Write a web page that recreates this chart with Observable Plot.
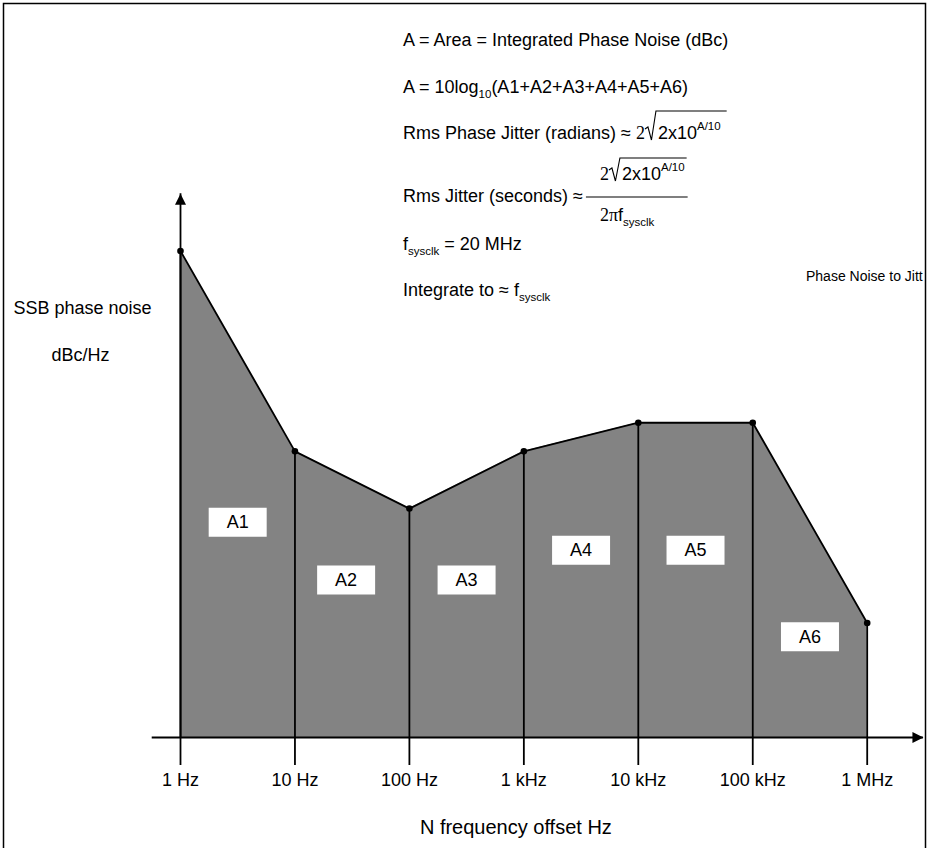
<!DOCTYPE html>
<html>
<head>
<meta charset="utf-8">
<script src="https://cdn.jsdelivr.net/npm/d3@7"></script>
<script src="https://cdn.jsdelivr.net/npm/@observablehq/plot@0.6"></script>
<style>
  html, body { margin: 0; padding: 0; background: #fff; }
  #chart svg { display: block; }
</style>
</head>
<body>
<div id="chart"></div>
<script>
// ---- data ----
const freqs = [1, 10, 100, 1e3, 1e4, 1e5, 1e6];                       // offset frequency, Hz
const tickLabels = ["1 Hz", "10 Hz", "100 Hz", "1 kHz", "10 kHz", "100 kHz", "1 MHz"];
const noise = [-60, -95, -105, -95, -90, -90, -125];                   // SSB phase noise, dBc/Hz
const floorDb = -145;        // bottom of the shaded area (x axis level)
const axisTopDb = -50;       // tip of the vertical arrow
const axisXStart = 0.566;    // left end of the horizontal axis line
const axisXEnd = 3.1e6;      // tip of the horizontal arrow
const areaNames = ["A1", "A2", "A3", "A4", "A5", "A6"];
const areaLabelF = [3.16, 28, 316, 3162, 31623, 316228];
const areaLabelDb = [-107.4, -117.5, -117.5, -112.3, -112.3, -127.4];
const xTitle = "N frequency offset Hz";
const yTitle = ["SSB phase noise", "dBc/Hz"];
const edgeCaption = "Phase Noise to Jitt";

const pts = freqs.map((f, i) => ({f, v: noise[i]}));
const areaLabels = areaNames.map((name, i) => ({name, f: areaLabelF[i], v: areaLabelDb[i]}));

const SANS = "'Liberation Sans', Arial, Helvetica, sans-serif";
const SERIF = "'Liberation Serif', 'Times New Roman', serif";

// custom symbols
const arrowHead = {draw(ctx, size) { const r = Math.sqrt(size / Math.PI); ctx.moveTo(0, 0); ctx.lineTo(r / 2, r); ctx.lineTo(-r / 2, r); ctx.closePath(); }};
const labelBox = {draw(ctx, size) { const r = Math.sqrt(size / Math.PI); ctx.rect(-r, -r / 2, 2 * r, r); }};

const plot = Plot.plot({
  width: 927,
  height: 848,
  marginLeft: 180,
  marginRight: 60.3,
  marginTop: 193.3,
  marginBottom: 111,
  x: {type: "log", domain: [1, 1e6], label: null},
  y: {domain: [floorDb, axisTopDb], axis: null, label: null},
  style: {fontFamily: SANS, fontSize: "18px", color: "black", background: "white", overflow: "visible"},
  marks: [
    Plot.areaY(pts, {x: "f", y1: floorDb, y2: "v", fill: "#838383", curve: "linear"}),
    Plot.ruleX(pts, {x: "f", y1: floorDb, y2: "v", stroke: "black", strokeWidth: 1.8}),
    Plot.ruleX([freqs[0]], {y1: floorDb, y2: axisTopDb, stroke: "black", strokeWidth: 1.8}),
    Plot.ruleY([floorDb], {x1: axisXStart, x2: axisXEnd, stroke: "black", strokeWidth: 2}),
    Plot.line(pts, {x: "f", y: "v", stroke: "black", strokeWidth: 1.8}),
    Plot.dot(pts, {x: "f", y: "v", r: 3.3, fill: "black", stroke: "none"}),
    Plot.dot([{f: freqs[0], v: axisTopDb, a: 0}, {f: axisXEnd, v: floorDb, a: 90}],
      {x: "f", y: "v", rotate: "a", symbol: arrowHead, r: 11, fill: "black", stroke: "none"}),
    Plot.axisX(freqs, {
      tickFormat: (d) => tickLabels[freqs.indexOf(d)],
      tickSize: 28, tickPadding: 8, strokeWidth: 1.8, fontSize: 18, label: null
    }),
    Plot.dot(areaLabels, {x: "f", y: "v", symbol: labelBox, r: 29, fill: "white", stroke: "none"}),
    Plot.text(areaLabels, {x: "f", y: "v", text: "name", fontSize: 18, fill: "black"}),
    Plot.text([xTitle], {text: (d) => d, frameAnchor: "bottom", textAnchor: "middle", dx: -8, dy: 96, fontSize: 20, fill: "black"}),
    Plot.text([yTitle[0]], {text: (d) => d, frameAnchor: "top-left", textAnchor: "middle", dx: -98, dy: 107.7, fontSize: 18, fill: "black"}),
    Plot.text([yTitle[1]], {text: (d) => d, frameAnchor: "top-left", textAnchor: "middle", dx: -100, dy: 154.5, fontSize: 18, fill: "black"})
  ]
});
document.getElementById("chart").appendChild(plot);

// ---- annotation block (formulas) ----
const svg = d3.select(plot);
svg.append("path").attr("d", "M3.5,848V3.5H925.5V848").attr("fill", "none").attr("stroke", "black").attr("stroke-width", 1.5);

const ann = svg.append("g").attr("fill", "black").attr("text-anchor", "start").style("font-family", SANS);
function runs(x, y, parts) {
  let cx = x;
  const out = {};
  for (const p of parts) {
    if (p.gap) { out[p.mark] = cx; cx += p.gap; continue; }
    const t = ann.append("text")
      .attr("x", cx).attr("y", y + (p.shift || 0))
      .attr("font-size", p.size || 18)
      .attr("text-anchor", "start")
      .style("white-space", "pre")
      .text(p.t);
    if (p.serif) t.attr("font-family", SERIF);
    cx += t.node().getComputedTextLength();
  }
  out.end = cx;
  return out;
}
function radical(x0, base, top, xEnd) {
  ann.append("path")
    .attr("d", `M${x0},${base - 10}L${x0 + 3},${base - 12}L${x0 + 6.5},${base + 1}L${x0 + 11},${top}H${xEnd}`)
    .attr("fill", "none").attr("stroke", "black").attr("stroke-width", 1.1);
}
const SUB = 11.5;
runs(403, 45.5, [{t: "A = Area = Integrated Phase Noise (dBc)"}]);
runs(403, 93, [{t: "A = 10log"}, {t: "10", size: SUB, shift: 5}, {t: "(A1+A2+A3+A4+A5+A6)"}]);
const l3 = runs(403, 139, [{t: "Rms Phase Jitter (radians) \u2248 "}, {t: "2", serif: true}, {gap: 13, mark: "rad"}, {t: "2x10"}, {t: "A/10", size: SUB, shift: -9}]);
radical(l3.rad, 139, 111, l3.end + 6);

const l4 = runs(403, 202, [{t: "Rms Jitter (seconds) \u2248"}]);
const barStart = l4.end + 3;
const num = runs(barStart + 14, 180, [{t: "2", serif: true}, {gap: 13, mark: "rad"}, {t: "2x10"}, {t: "A/10", size: SUB, shift: -9}]);
radical(num.rad, 180, 158, num.end + 2);
runs(barStart + 14, 221, [{t: "2\u03c0", serif: true}, {t: "f"}, {t: "sysclk", size: SUB, shift: 5}]);
ann.append("line").attr("x1", barStart).attr("x2", num.end + 3).attr("y1", 197).attr("y2", 197)
  .attr("stroke", "black").attr("stroke-width", 1.1);

runs(403, 250, [{t: "f"}, {t: "sysclk", size: SUB, shift: 5}, {t: " = 20 MHz"}]);
runs(403, 295.5, [{t: "Integrate to \u2248 f"}, {t: "sysclk", size: SUB, shift: 5}]);

// small caption at the right edge (shown truncated in the original)
svg.append("text").attr("x", 806).attr("y", 280.5).attr("text-anchor", "start")
  .attr("font-size", 14).attr("fill", "black").style("font-family", SANS).text(edgeCaption);
</script>
</body>
</html>
